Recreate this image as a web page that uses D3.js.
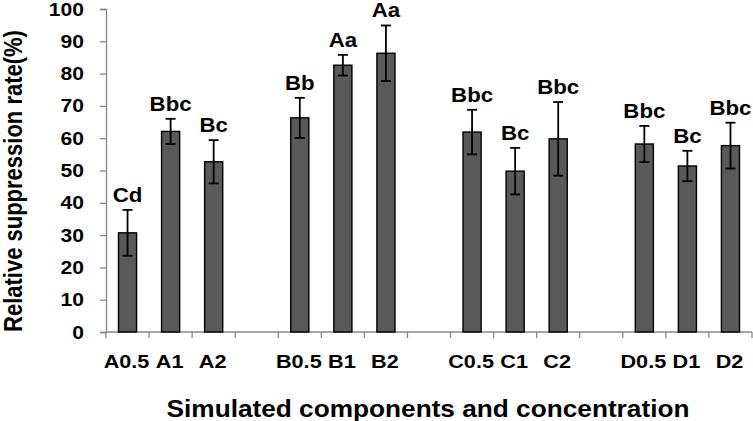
<!DOCTYPE html>
<html>
<head>
<meta charset="utf-8">
<script src="https://cdn.jsdelivr.net/npm/d3@7"></script>
<style>
  body { margin: 0; background: #fff; }
  text { font-family: "Liberation Sans", Arial, sans-serif; font-weight: bold; fill: #000; }
</style>
</head>
<body>
<div id="plot"></div>
<script>
// categories on the x axis, empty strings are the gaps between groups
const categories = ["A0.5", "A1", "A2", "", "B0.5", "B1", "B2", "", "C0.5", "C1", "C2", "", "D0.5", "D1", "D2"];
const values = [30.7, 62.1, 52.7, null, 66.3, 82.6, 86.3, null, 61.9, 49.8, 59.8, null, 58.2, 51.4, 57.7];
const errors = [7.1, 3.9, 6.7, null, 6.2, 3.2, 8.6, null, 6.9, 7.2, 11.4, null, 5.6, 4.7, 7.1];
const letters = ["Cd", "Bbc", "Bc", "", "Bb", "Aa", "Aa", "", "Bbc", "Bc", "Bbc", "", "Bbc", "Bc", "Bbc"];
const yTicks = [0, 10, 20, 30, 40, 50, 60, 70, 80, 90, 100];

const width = 753, height = 421;
const margin = { top: 9, right: 1, bottom: 89, left: 106 };
const sx = 1.14; // the original picture is a bit wider than tall, text too

const svg = d3.select("div#plot")
    .append("svg")
    .attr("width", width)
    .attr("height", height);

const slots = categories.map((c, i) => "s" + i); // gaps need unique keys

const x = d3.scaleBand()
    .domain(slots)
    .range([margin.left, width - margin.right])
    .paddingInner(0.58)
    .paddingOuter(0.29);

const y = d3.scaleLinear()
    .domain([0, 100])
    .range([height - margin.bottom, margin.top]);

const cx = i => x(slots[i]) + x.bandwidth() / 2;

// y axis (labels drawn separately so they get the big bold font)
const yAxis = svg.append("g")
    .attr("transform", `translate(${margin.left},0)`)
    .call(d3.axisLeft(y).tickValues(yTicks).tickSize(6).tickFormat(""));
yAxis.select(".domain").attr("stroke", "#888").attr("stroke-width", 1.3);
yAxis.selectAll(".tick line").attr("stroke", "#888").attr("stroke-width", 1.3);

svg.selectAll("text.ylab")
    .data(yTicks)
    .enter().append("text")
    .attr("class", "ylab")
    .attr("transform", d => `translate(${margin.left - 22},${y(d) + 6.5}) scale(${sx},1)`)
    .attr("text-anchor", "end")
    .attr("font-size", 18.5)
    .style("font-size", "18.5px")
    .text(d => d);

// x axis: ticks sit at the slot borders
const edges = d3.range(categories.length + 1).map(i => margin.left + i * x.step());
const xg = svg.append("g");
xg.append("line")
    .attr("x1", margin.left).attr("x2", width - margin.right)
    .attr("y1", y(0)).attr("y2", y(0))
    .attr("stroke", "#888").attr("stroke-width", 1.3);
xg.selectAll("line.tick")
    .data(edges)
    .enter().append("line")
    .attr("class", "tick")
    .attr("x1", d => d).attr("x2", d => d)
    .attr("y1", y(0)).attr("y2", y(0) + 6)
    .attr("stroke", "#888").attr("stroke-width", 1.3);
xg.selectAll("text")
    .data(categories)
    .enter().append("text")
    .attr("transform", (d, i) => `translate(${cx(i) - 1},${y(0) + 36}) scale(${sx},1)`)
    .attr("text-anchor", "middle")
    .style("font-size", "19px")
    .text(d => d);

const idx = d3.range(categories.length).filter(i => values[i] != null);

// bars
svg.selectAll("rect.bar")
    .data(idx)
    .enter().append("rect")
    .attr("class", "bar")
    .attr("x", i => x(slots[i]))
    .attr("y", i => y(values[i]))
    .attr("width", x.bandwidth())
    .attr("height", i => y(0) - y(values[i]))
    .attr("fill", "#595959")
    .attr("stroke", "#000")
    .attr("stroke-width", 1.4);

// error bars
const cap = 5;
const eb = svg.selectAll("g.err")
    .data(idx)
    .enter().append("g")
    .attr("class", "err")
    .attr("stroke", "#000")
    .attr("stroke-width", 1.8);
eb.append("line")
    .attr("x1", cx).attr("x2", cx)
    .attr("y1", i => y(values[i] - errors[i]))
    .attr("y2", i => y(values[i] + errors[i]));
eb.append("line")
    .attr("x1", i => cx(i) - cap).attr("x2", i => cx(i) + cap)
    .attr("y1", i => y(values[i] + errors[i]))
    .attr("y2", i => y(values[i] + errors[i]));
eb.append("line")
    .attr("x1", i => cx(i) - cap).attr("x2", i => cx(i) + cap)
    .attr("y1", i => y(values[i] - errors[i]))
    .attr("y2", i => y(values[i] - errors[i]));

// significance letters
svg.selectAll("text.letter")
    .data(idx)
    .enter().append("text")
    .attr("class", "letter")
    .attr("transform", i => `translate(${cx(i)},${y(values[i] + errors[i]) - 8}) scale(${sx},1)`)
    .attr("text-anchor", "middle")
    .style("font-size", "19.5px")
    .text(i => letters[i]);

// axis titles
svg.append("text")
    .attr("transform", `translate(22,181) scale(${sx},1) rotate(-90)`)
    .attr("text-anchor", "middle")
    .style("font-size", "22px")
    .text("Relative suppression rate(%)");

svg.append("text")
    .attr("transform", `translate(428,417) scale(${sx},1)`)
    .attr("text-anchor", "middle")
    .style("font-size", "23px")
    .text("Simulated components and concentration");
</script>
</body>
</html>
